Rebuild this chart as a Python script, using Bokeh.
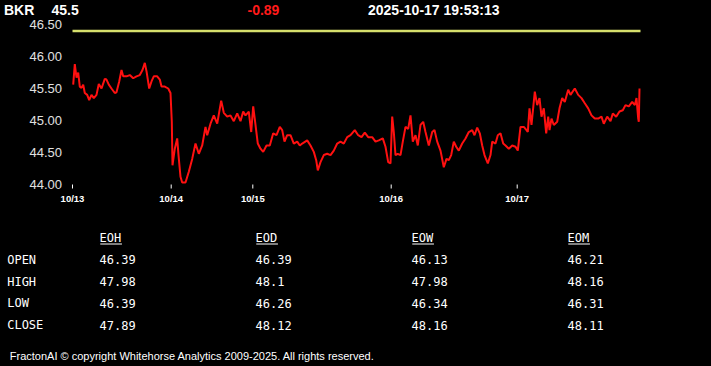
from bokeh.plotting import figure
from bokeh.models import Range1d, Label, ColumnDataSource
from bokeh.embed import file_html
from bokeh.resources import INLINE
from bokeh.core.properties import value

# ---------------- data ----------------
symbol = "BKR"
last_price = "45.5"
change = "-0.89"
timestamp = "2025-10-17 19:53:13"

# session time (trading-time units from 10/13 open) and price
session_t = [0.7, 2.3, 4.0, 5.7, 7.3, 9.0, 10.7, 12.3, 14.7, 16.7, 19.0, 21.3, 24.0, 26.3, 29.0, 32.3, 34.0, 36.3,
             39.0, 42.3, 44.0, 46.7, 49.0, 50.7, 54.0, 57.3, 60.7, 64.0, 67.3, 70.0, 72.3, 74.0, 76.7, 79.0, 81.3,
             84.7, 87.3, 89.0, 92.3, 95.7, 98.0, 99.3, 100.0, 102.3, 104.7, 106.0, 108.0, 109.7, 113.0, 116.3, 119.7,
             123.0, 126.3, 129.7, 133.0, 134.7, 138.0, 141.3, 144.7, 148.7, 151.3, 154.7, 158.0, 161.3, 164.7, 168.0,
             170.7, 173.0, 176.3, 178.7, 180.7, 183.0, 185.3, 188.0, 190.7, 194.0, 197.3, 200.7, 204.0, 207.3, 209.7,
             212.0, 214.7, 218.0, 221.3, 224.7, 227.3, 229.7, 234.7, 238.0, 241.3, 243.7, 245.3, 248.0, 251.3, 254.7,
             258.0, 261.3, 264.7, 268.0, 271.3, 274.7, 278.0, 282.3, 285.7, 289.0, 292.3, 295.7, 299.7, 303.0, 306.3,
             310.3, 313.0, 315.7, 318.0, 319.7, 321.3, 323.0, 325.3, 328.0, 330.3, 333.0, 335.7, 338.0, 340.3, 343.0,
             345.3, 348.0, 350.7, 353.0, 356.3, 359.7, 362.0, 364.7, 368.0, 371.3, 374.0, 376.3, 378.7, 381.3, 383.7,
             386.3, 389.7, 393.0, 396.3, 399.7, 402.0, 404.7, 407.3, 409.7, 412.0, 415.3, 418.0, 419.7, 423.0, 425.3,
             428.0, 430.7, 433.0, 436.3, 439.7, 443.0, 445.3, 448.0, 451.3, 454.0, 455.3, 457.0, 459.0, 462.3, 464.7,
             467.0, 469.0, 471.3, 473.7, 475.7, 477.0, 479.0, 481.3, 484.7, 487.0, 489.7, 492.3, 495.7, 498.0, 502.3,
             505.7, 509.0, 512.3, 515.7, 519.0, 522.3, 525.7, 529.0, 531.3, 534.7, 538.0, 540.3, 543.7, 547.0, 550.3,
             553.0, 556.3, 559.7, 562.3, 564.0, 565.7, 566.3, 567.0]
price = [45.56, 45.88, 45.67, 45.75, 45.53, 45.51, 45.56, 45.43, 45.40, 45.32, 45.40, 45.35, 45.40, 45.57, 45.50,
         45.65, 45.64, 45.56, 45.50, 45.43, 45.44, 45.61, 45.79, 45.69, 45.69, 45.71, 45.66, 45.69, 45.71, 45.79,
         45.90, 45.77, 45.50, 45.61, 45.69, 45.69, 45.64, 45.53, 45.53, 45.50, 45.43, 44.98, 44.30, 44.56, 44.72,
         44.46, 44.12, 44.03, 44.03, 44.20, 44.40, 44.64, 44.48, 44.61, 44.90, 44.77, 44.95, 45.08, 44.95, 45.31,
         45.12, 45.06, 45.08, 44.99, 45.11, 44.99, 45.14, 45.08, 45.14, 44.82, 45.22, 44.93, 44.64, 44.56, 44.51,
         44.61, 44.61, 44.80, 44.77, 44.90, 44.85, 44.67, 44.77, 44.77, 44.64, 44.67, 44.61, 44.64, 44.69, 44.61,
         44.51, 44.38, 44.22, 44.35, 44.46, 44.48, 44.46, 44.53, 44.64, 44.67, 44.64, 44.74, 44.77, 44.85, 44.77,
         44.74, 44.81, 44.74, 44.74, 44.67, 44.69, 44.72, 44.59, 44.35, 44.33, 45.06, 44.82, 44.46, 44.48, 44.46,
         44.67, 44.90, 44.87, 45.08, 44.67, 44.77, 44.61, 44.93, 44.98, 44.82, 44.61, 44.82, 44.85, 44.67, 44.53,
         44.27, 44.40, 44.38, 44.46, 44.67, 44.59, 44.53, 44.64, 44.72, 44.82, 44.85, 44.77, 44.89, 44.80, 44.61,
         44.46, 44.33, 44.46, 44.67, 44.64, 44.77, 44.80, 44.64, 44.61, 44.56, 44.61, 44.59, 44.53, 44.90, 44.90,
         44.85, 44.82, 45.19, 44.93, 45.45, 45.24, 45.35, 45.06, 45.19, 44.80, 45.06, 44.85, 45.03, 44.93, 44.98,
         45.19, 45.35, 45.29, 45.48, 45.40, 45.50, 45.40, 45.35, 45.27, 45.19, 45.08, 45.03, 45.03, 45.06, 44.95,
         45.06, 44.99, 45.11, 45.06, 45.14, 45.16, 45.24, 45.22, 45.29, 45.24, 45.35, 45.03, 44.98, 45.50]

day_ticks = [0, 98.7, 180.3, 318.7, 444.7]
day_labels = ["10/13", "10/14", "10/15", "10/16", "10/17"]
session_end = 568
target_level = 46.40
y_ticks = [44.0, 44.5, 45.0, 45.5, 46.0, 46.5]
y_min, y_max = 44.0, 46.5

row_labels = ["OPEN", "HIGH", "LOW", "CLOSE"]
col_labels = ["EOH", "EOD", "EOW", "EOM"]
eoh = ["46.39", "47.98", "46.39", "47.89"]
eod = ["46.39", "48.1", "46.26", "48.12"]
eow = ["46.13", "47.98", "46.34", "48.16"]
eom = ["46.21", "48.16", "46.31", "48.11"]
footer = "FractonAI \u00a9 copyright Whitehorse Analytics 2009-2025. All rights reserved."

# ---------------- layout (pixels) ----------------
W, H = 711, 366
PLOT_L, PLOT_T, PLOT_B = 72, 24, 184          # chart area inside the canvas
px_per_t = 1.0                                 # session units per pixel
px_per_price = (PLOT_B - PLOT_T) / (y_max - y_min)

x_lo = -PLOT_L / px_per_t
x_hi = x_lo + W / px_per_t
y_lo = y_min - (H - PLOT_B) / px_per_price
y_hi = y_max + PLOT_T / px_per_price

# table grid
col_x0, col_dx = 99.0, 156.0
row_y0, row_dy = 237.5, 21.75

p = figure(width=W, height=H, x_range=Range1d(x_lo, x_hi), y_range=Range1d(y_lo, y_hi),
           output_backend="svg", toolbar_location=None,
           min_border=0, min_border_left=0, min_border_right=0, min_border_top=0, min_border_bottom=0,
           x_axis_location=None, y_axis_location=None,
           background_fill_color="black", border_fill_color="black", outline_line_color=None)
p.xgrid.visible = False
p.ygrid.visible = False
p.extra_x_ranges = {"cols": Range1d(-col_x0 / col_dx, (W - col_x0) / col_dx)}
p.extra_y_ranges = {"rows": Range1d((H - row_y0) / row_dy, -row_y0 / row_dy)}

# target line and price line
p.line([0, session_end], [target_level, target_level], line_color="#d6df6c", line_width=2.5)
p.line(session_t, price, line_color="#ff1010", line_width=2)

# y tick labels
p.text(x=[0] * len(y_ticks), y=y_ticks, text=["%.2f" % v for v in y_ticks],
       text_font=value("Liberation Sans"), text_font_size="13px", text_color="#e0e0e0",
       text_align="right", text_baseline="middle", x_offset=-10.5)

# x ticks and labels
tick_len = 4 / px_per_price
p.segment(x0=day_ticks, y0=[y_min] * len(day_ticks), x1=day_ticks, y1=[y_min - tick_len] * len(day_ticks),
          line_color="white", line_width=1)
p.text(x=day_ticks, y=[y_min] * len(day_ticks), text=day_labels,
       text_font=value("Liberation Sans"), text_font_style="bold", text_font_size="9.5px",
       text_color="white", text_align="center", text_baseline="top", y_offset=8)


# header
def header_label(text, x_canvas, color):
    return Label(x=x_canvas, y=H - 9, x_units="screen", y_units="screen",
                 text=text, text_color=color, text_font="Liberation Sans", text_font_style="bold",
                 text_font_size="14px", text_baseline="middle", text_align="left")


p.add_layout(header_label(symbol, 3.5, "white"))
p.add_layout(header_label(last_price, 51, "white"))
p.add_layout(header_label(change, 247, "#ff1a1a"))
p.add_layout(header_label(timestamp, 367.5, "white"))

# table
columns = [eoh, eod, eow, eom]
xs, ys, txt = [], [], []
for ci, name in enumerate(col_labels):
    xs.append(ci); ys.append(0); txt.append(name)
    for ri, v in enumerate(columns[ci]):
        xs.append(ci); ys.append(ri + 1); txt.append(v)
label_x = (6.7 - col_x0) / col_dx
for ri, name in enumerate(row_labels):
    xs.append(label_x); ys.append(ri + 1); txt.append(name)

src = ColumnDataSource(dict(x=xs, y=ys, text=txt))
p.text(x="x", y="y", text="text", source=src, x_range_name="cols", y_range_name="rows",
       text_font=value("DejaVu Sans Mono"), text_font_size="12px",
       text_color="white", text_baseline="middle", text_align="left")

char_w = 7.22 / col_dx
ul_x0 = [ci + 0.005 for ci in range(len(col_labels))]
ul_x1 = [ci + 0.005 + len(n) * char_w for ci, n in enumerate(col_labels)]
ul_y = [6.0 / row_dy] * len(col_labels)
p.segment(x0=ul_x0, y0=ul_y, x1=ul_x1, y1=ul_y, x_range_name="cols", y_range_name="rows",
          line_color="white", line_width=1)

# footer
p.add_layout(Label(x=9.3, y=H - 355.5, x_units="screen", y_units="screen", text=footer,
                   text_color="white", text_font="Liberation Sans", text_font_size="11px",
                   text_baseline="middle", text_align="left"))

html = file_html(p, INLINE, "BKR")
html = html.replace("</head>", "<style>html,body{margin:0 !important;padding:0 !important;background:#000 !important;}</style></head>", 1)
open("out.html", "w").write(html)
